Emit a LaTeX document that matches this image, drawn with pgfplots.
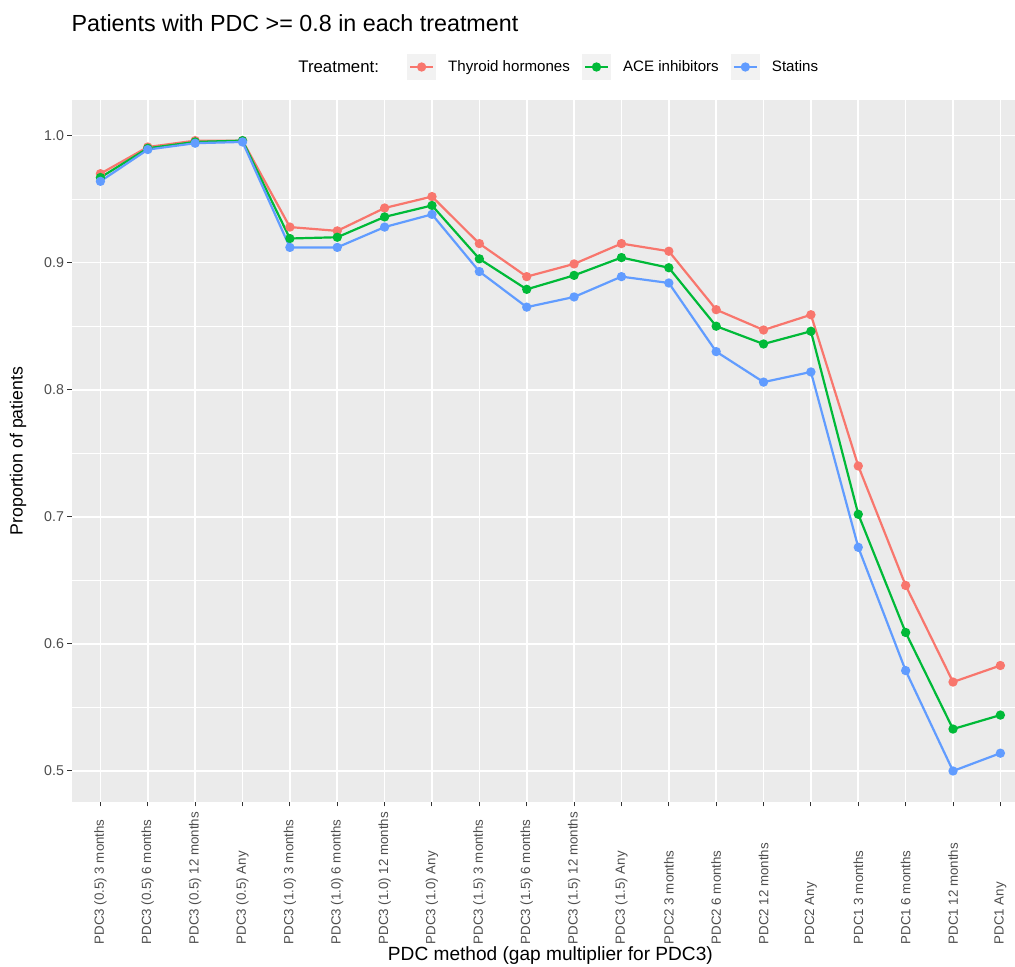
\documentclass[border=0pt]{standalone}
\usepackage{pgfplots}
\pgfplotsset{compat=1.18}
\usepackage{fontspec}
\setmainfont{Liberation Sans}
\definecolor{panel}{RGB}{235,235,235}
\definecolor{keybg}{RGB}{242,242,242}
\definecolor{cred}{HTML}{F8766D}
\definecolor{cgreen}{HTML}{00BA38}
\definecolor{cblue}{HTML}{619CFF}
\definecolor{g30}{RGB}{77,77,77}
\definecolor{g20}{RGB}{51,51,51}
\begin{document}
\begin{tikzpicture}
\begin{axis}[
  scale only axis, width=956.8pt, height=702pt,
  xmin=0.4, xmax=20.6, ymin=0.4756, ymax=1.028,
  axis background/.style={fill=panel},
  axis line style={draw=none},
  xtick={1,...,20},
  xticklabels={PDC3 (0.5) 3 months, PDC3 (0.5) 6 months, PDC3 (0.5) 12 months, PDC3 (0.5) Any,
    PDC3 (1.0) 3 months, PDC3 (1.0) 6 months, PDC3 (1.0) 12 months, PDC3 (1.0) Any,
    PDC3 (1.5) 3 months, PDC3 (1.5) 6 months, PDC3 (1.5) 12 months, PDC3 (1.5) Any,
    PDC2 3 months, PDC2 6 months, PDC2 12 months, PDC2 Any,
    PDC1 3 months, PDC1 6 months, PDC1 12 months, PDC1 Any},
  ytick={0.5,0.6,0.7,0.8,0.9,1.0},
  minor ytick={0.55,0.65,0.75,0.85,0.95},
  grid=both,
  major grid style={white, line width=1.6pt},
  minor grid style={white, line width=0.8pt},
  tick align=outside, xtick pos=left, ytick pos=left,
  major tick length=4.5pt, minor tick length=0pt,
  tick style={g20, line width=1pt},
  ticklabel style={font=\fontsize{14.2}{17}\selectfont, text=g30},
  xticklabel style={rotate=90, anchor=west, inner sep=0pt, xshift=-138pt, font=\fontsize{13.3}{16}\selectfont},
  yticklabel style={/pgf/number format/.cd, fixed, fixed zerofill, precision=1, assume math mode=true},
  xlabel={PDC method (gap multiplier for PDC3)},
  xlabel style={at={(axis description cs:0.5,-0.2265)}, anchor=base, font=\fontsize{19.1}{22}\selectfont},
  ylabel={Proportion of patients},
  ylabel style={at={(axis description cs:-0.0564,0.5)}, anchor=center, font=\fontsize{17.7}{21}\selectfont},
  title={Patients with PDC >= 0.8 in each treatment},
  title style={at={(axis description cs:0,1)}, anchor=base west, xshift=-4pt, yshift=62pt, font=\fontsize{23.3}{26}\selectfont},
  legend columns=-1,
  legend style={at={(axis description cs:0.503,1.047)}, anchor=center, draw=none, fill=none,
    font=\fontsize{15.1}{17}\selectfont, inner sep=0pt,
    /tikz/every even column/.append style={column sep=10pt},
    /tikz/every odd column/.append style={column sep=10pt}},
  legend image code/.code={
    \fill[keybg] (0pt,-12pt) rectangle (27pt,12pt);
    \draw[mark repeat=2,mark phase=2] plot coordinates {(2pt,0pt)(13.5pt,0pt)(25pt,0pt)};
  },
]
\addlegendimage{empty legend}
\addlegendentry{\fontsize{16.8}{20}\selectfont Treatment:\hspace*{16pt}\null}
\addplot[cred, line width=2.2pt, mark=*, mark size=3.5pt] coordinates {
(1,0.970)(2,0.991)(3,0.996)(4,0.996)(5,0.928)(6,0.925)(7,0.943)(8,0.952)(9,0.915)(10,0.889)
(11,0.899)(12,0.915)(13,0.909)(14,0.863)(15,0.847)(16,0.859)(17,0.740)(18,0.646)(19,0.570)(20,0.583)};
\addlegendentry{Thyroid hormones}
\addplot[cgreen, line width=2.2pt, mark=*, mark size=3.5pt] coordinates {
(1,0.967)(2,0.990)(3,0.995)(4,0.996)(5,0.919)(6,0.920)(7,0.936)(8,0.945)(9,0.903)(10,0.879)
(11,0.890)(12,0.904)(13,0.896)(14,0.850)(15,0.836)(16,0.846)(17,0.702)(18,0.609)(19,0.533)(20,0.544)};
\addlegendentry{ACE inhibitors}
\addplot[cblue, line width=2.2pt, mark=*, mark size=3.5pt] coordinates {
(1,0.964)(2,0.989)(3,0.994)(4,0.995)(5,0.912)(6,0.912)(7,0.928)(8,0.938)(9,0.893)(10,0.865)
(11,0.873)(12,0.889)(13,0.884)(14,0.830)(15,0.806)(16,0.814)(17,0.676)(18,0.579)(19,0.500)(20,0.514)};
\addlegendentry{Statins}
\coordinate (bl) at (rel axis cs:0,0);
\coordinate (tr) at (rel axis cs:1,1);
\end{axis}
\pgfresetboundingbox
\path ([shift={(-72pt,-165pt)}]bl) rectangle ([shift={(-13.8pt,100pt)}]tr);
\end{tikzpicture}
\end{document}
